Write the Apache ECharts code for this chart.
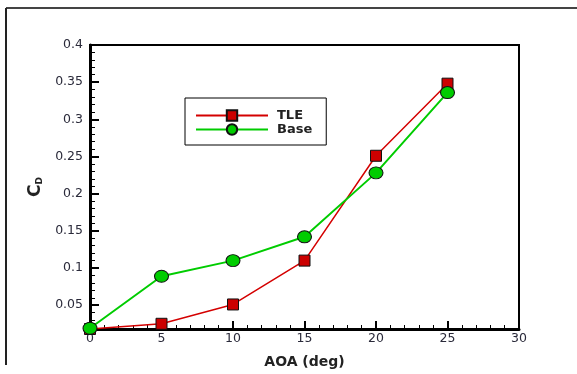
<!DOCTYPE html>
<html>
<head>
<meta charset="utf-8">
<script src="https://cdn.jsdelivr.net/npm/echarts@6/dist/echarts.min.js"></script>
<style>
  html, body { margin: 0; padding: 0; background: #fff; }
  #chart { width: 577px; height: 374px; }
</style>
</head>
<body>
<div id="chart"></div>
<script>
  // drag coefficient vs angle of attack
  var aoa = [0, 5, 10, 15, 20, 25];
  var cdTLE = [0.018, 0.025, 0.051, 0.110, 0.251, 0.348];
  var cdBase = [0.019, 0.089, 0.110, 0.142, 0.228, 0.336];
  var yMajor = [0.05, 0.1, 0.15, 0.2, 0.25, 0.3, 0.35, 0.4];
  var yMinor = [0.02, 0.03, 0.04, 0.06, 0.07, 0.08, 0.09, 0.11, 0.12, 0.13, 0.14,
    0.16, 0.17, 0.18, 0.19, 0.21, 0.22, 0.23, 0.24, 0.26, 0.27, 0.28, 0.29,
    0.31, 0.32, 0.33, 0.34, 0.36, 0.37, 0.38, 0.39];

  function pairs(xs, ys) {
    return xs.map(function (x, i) { return [x, ys[i]]; });
  }

  var chart = echarts.init(document.getElementById('chart'));
  var labelFont = { fontFamily: 'DejaVu Sans', fontSize: 12.5, color: '#2a2a3a' };

  chart.setOption({
    animation: false,
    grid: {
      left: 90, right: 58, top: 45, bottom: 42,
      show: true, borderColor: '#000', borderWidth: 2
    },
    graphic: [
      { type: 'line', shape: { x1: 6, y1: 8, x2: 577, y2: 8 }, style: { stroke: '#444', lineWidth: 2 } },
      { type: 'line', shape: { x1: 6, y1: 8, x2: 6, y2: 365 }, style: { stroke: '#222', lineWidth: 2 } }
    ],
    legend: {
      orient: 'vertical',
      left: 185, top: 98,
      width: 142,
      padding: [11, 14, 9, 10],
      borderColor: '#000', borderWidth: 1,
      itemWidth: 72, itemHeight: 13, itemGap: 1,
      textStyle: { fontFamily: 'DejaVu Sans', fontSize: 13, fontWeight: 'bold', color: '#222', padding: [0, 0, 0, 4] },
      data: ['TLE', 'Base']
    },
    xAxis: {
      type: 'value',
      min: 0, max: 30, interval: 5,
      name: 'AOA (deg)',
      nameLocation: 'middle',
      nameGap: 26,
      nameTextStyle: { fontFamily: 'DejaVu Sans', fontSize: 14, fontWeight: 'bold', color: '#222' },
      axisLine: { lineStyle: { color: '#000', width: 3 } },
      axisTick: { inside: true, length: 8, lineStyle: { color: '#000', width: 2 } },
      minorTick: { show: true, splitNumber: 5, length: 4, lineStyle: { color: '#000', width: 1 } },
      axisLabel: Object.assign({ margin: 3 }, labelFont),
      splitLine: { show: false }
    },
    yAxis: [{
      type: 'value',
      min: 0.018, max: 0.4,
      name: 'C{sub|D}',
      nameLocation: 'middle',
      nameRotate: 90,
      nameGap: 44,
      nameTextStyle: {
        fontFamily: 'DejaVu Sans', fontSize: 17, fontWeight: 'bold', color: '#222',
        rich: { sub: { fontSize: 9, fontWeight: 'bold', verticalAlign: 'bottom', padding: [8, 0, 0, 0] } }
      },
      axisLine: { show: true, lineStyle: { color: '#000', width: 3 } },
      axisTick: { inside: true, length: 9, customValues: yMajor, lineStyle: { color: '#000', width: 2 } },
      axisLabel: Object.assign({ margin: 7, customValues: yMajor }, labelFont),
      splitLine: { show: false }
    }, {
      type: 'value',
      position: 'left',
      min: 0.018, max: 0.4,
      axisLine: { show: false },
      axisTick: { show: true, inside: true, length: 5, customValues: yMinor, lineStyle: { color: '#000', width: 1 } },
      axisLabel: { show: false },
      splitLine: { show: false }
    }],
    series: [{
      name: 'TLE',
      type: 'line',
      data: pairs(aoa, cdTLE),
      symbol: 'rect',
      symbolSize: 11,
      lineStyle: { color: '#d40000', width: 1.5 },
      itemStyle: { color: '#cc0000', borderColor: '#111', borderWidth: 1 },
      z: 3
    }, {
      name: 'Base',
      type: 'line',
      data: pairs(aoa, cdBase),
      symbol: 'circle',
      symbolSize: [14, 12],
      lineStyle: { color: '#00cc00', width: 2 },
      itemStyle: { color: '#00cc00', borderColor: '#111', borderWidth: 1 },
      z: 4
    }]
  });
</script>
</body>
</html>
